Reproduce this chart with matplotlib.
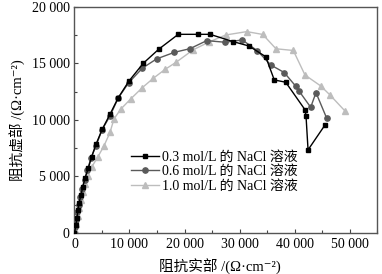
import matplotlib
matplotlib.use("Agg")
import matplotlib.pyplot as plt
from matplotlib.ticker import MultipleLocator

plt.rcParams['font.family'] = ['Liberation Serif', 'Noto Sans CJK SC', 'DejaVu Sans']

# data (Z' , -Z'') in Ohm·cm^-2
x03 = [0, 270, 450, 640, 820, 1180, 1490, 1910, 2510, 3130, 3910, 5050, 6450, 7960, 9910,
       12510, 15360, 18870, 22500, 24630, 28870, 31690, 34760, 36320, 38400, 41910, 42090,
       42460, 45550]
y03 = [0, 710, 1330, 2030, 2655, 3360, 4040, 4840, 5730, 6750, 7850, 9180, 10500, 11970, 13450,
       15020, 16280, 17580, 17580, 17580, 16930, 16550, 15600, 13540, 13340, 10900, 10350,
       7350, 9560]

x06 = [0, 180, 360, 545, 730, 1000, 1360, 1820, 2360, 3000, 3910, 5000, 6450, 7960, 9850,
       12330, 14910, 18180, 21000, 24030, 27360, 30510, 33230, 35670, 38120, 40180, 40810,
       42940, 43900, 45850]
y06 = [0, 530, 1150, 1860, 2480, 3190, 3890, 4690, 5580, 6640, 7700, 9120, 10350, 11950, 13290,
       14580, 15400, 15990, 16310, 17020, 16880, 17080, 16130, 14870, 14200, 13010, 12570,
       11120, 12420, 10150]

x10 = [0, 90, 360, 640, 910, 1180, 1550, 1910, 2450, 3180, 4270, 5360, 6450, 7180, 8400,
       10220, 12330, 14330, 16450, 18540, 21540, 24450, 27490, 31310, 34220, 36630, 39780,
       41900, 44760, 46450, 49120]
y10 = [0, 265, 800, 1500, 2210, 2920, 3630, 4340, 5040, 5870, 6750, 7700, 8890, 10090, 10950,
       11860, 12860, 13690, 14470, 15130, 16200, 16900, 17520, 17820, 17570, 16300, 16150,
       13980, 13010, 12210, 10820]

labels = ['0.3 mol/L 的 NaCl 溶液', '0.6 mol/L 的 NaCl 溶液', '1.0 mol/L 的 NaCl 溶液']
xticks = [0, 10000, 20000, 30000, 40000, 50000]
xticklabels = ['0', '10 000', '20 000', '30 000', '40 000', '50 000']
yticks = [0, 5000, 10000, 15000, 20000]
yticklabels = ['0', '5 000', '10 000', '15 000', '20 000']

fig = plt.figure(figsize=(3.82, 2.74), dpi=100)
ax = fig.add_axes([0.195, 0.150, 0.792, 0.8245])

ax.plot(x10, y10, color='#bdbdbd', marker='^', markersize=4, lw=1.0, label=labels[2], zorder=2)
ax.plot(x06, y06, color='#5a5a5a', marker='o', markersize=3.8, lw=1.0, label=labels[1], zorder=3)
ax.plot(x03, y03, color='#000000', marker='s', markersize=3.3, lw=1.0, label=labels[0], zorder=4)

ax.set_xlim(0, 55000)
ax.set_ylim(0, 20000)
ax.set_xticks(xticks)
ax.set_xticklabels(xticklabels)
ax.set_yticks(yticks)
ax.set_yticklabels(yticklabels)
ax.xaxis.set_minor_locator(MultipleLocator(5000))
ax.yaxis.set_minor_locator(MultipleLocator(2500))
ax.tick_params(direction='in', which='both', labelsize=10, length=3, width=0.8, color='#444444')
ax.tick_params(which='minor', length=2)
for s in ax.spines.values():
    s.set_color('#555555')
    s.set_linewidth(1.0)

h, l = ax.get_legend_handles_labels()
order = [2, 1, 0]
ax.legend([h[i] for i in order], [l[i] for i in order], loc='upper left',
          bbox_to_anchor=(0.16, 0.40), frameon=False, fontsize=10,
          handlelength=2.0, handletextpad=0.2, labelspacing=0.1, borderpad=0.1)

ax.set_xlabel('阻抗实部 /(Ω·cm⁻²)', fontsize=10.5, labelpad=5)
ax.xaxis.set_label_coords(0.48, -0.115)
ax.set_ylabel('阻抗虚部 /(Ω·cm⁻²)', fontsize=10.5, labelpad=4)

fig.savefig('out.png', dpi=100)
